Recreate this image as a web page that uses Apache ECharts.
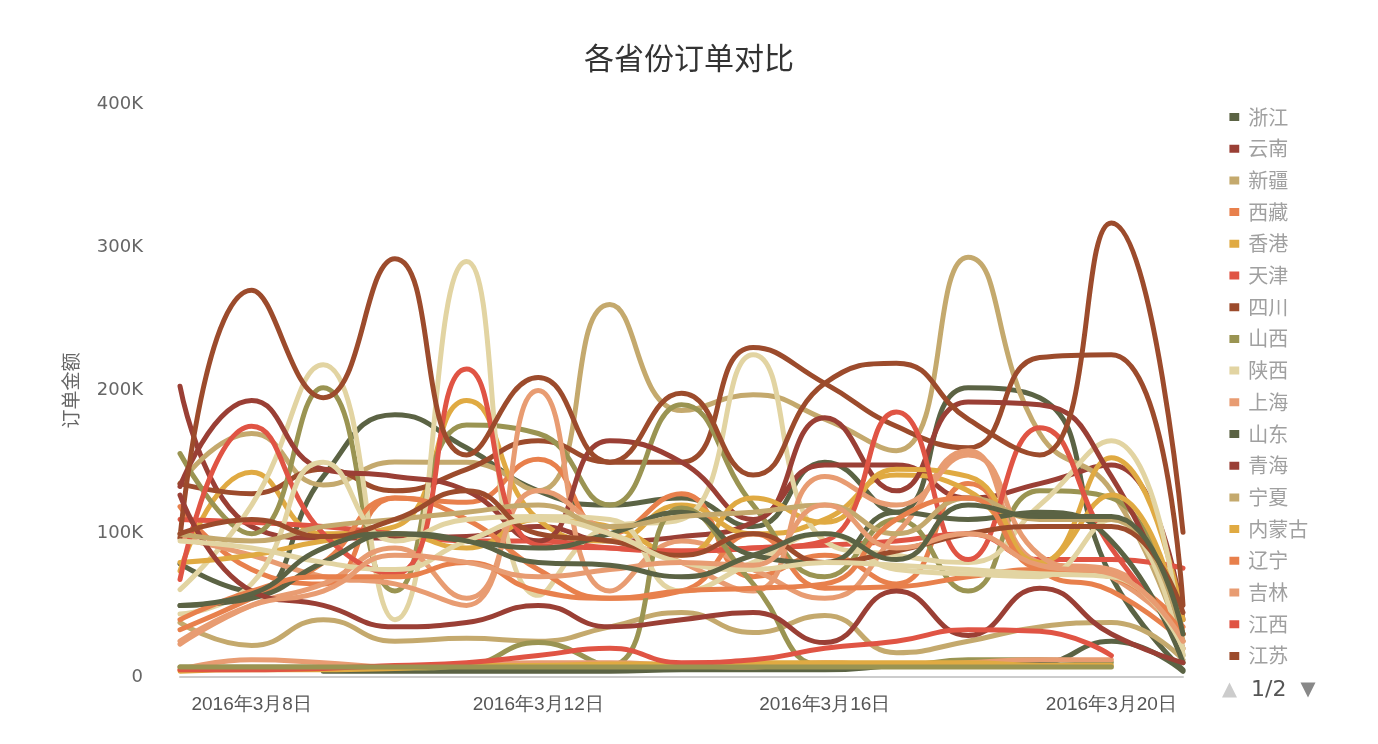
<!DOCTYPE html>
<html><head><meta charset="utf-8">
<script src="https://cdn.jsdelivr.net/npm/echarts@6/dist/echarts.min.js"></script>
<style>html,body{margin:0;padding:0;background:#fff}#c{width:1378px;height:744px}</style>
</head><body><div id="c"></div>
<script>
const dates = ['2016-03-07','2016-03-08','2016-03-09','2016-03-10','2016-03-11','2016-03-12','2016-03-13','2016-03-14','2016-03-15','2016-03-16','2016-03-17','2016-03-18','2016-03-19','2016-03-20','2016-03-21'];
const yTicks = [0, 100000, 200000, 300000, 400000];
const provinces = ['浙江','云南','新疆','西藏','香港','天津','四川','山西','陕西','上海','山东','青海','宁夏','内蒙古','辽宁','吉林','江西','江苏','湖南','湖北','黑龙江','河南','河北','海南','贵州','广西','广东','甘肃','福建','重庆','北京','安徽'];
// values in thousands (K)
const zhejiang   = [79, 60, 140, 183, 160, 130, 120, 125, 105, 150, 115, 202, 195, 70, 5];
const yunnan     = [203, 105, 97, 97, 98, 105, 95, 98, 108, 148, 148, 125, 135, 148, 40];
const xinjiang   = [135, 170, 134, 150, 150, 130, 260, 186, 197, 180, 158, 293, 170, 130, 20];
const xizang     = [119, 75, 65, 125, 122, 152, 100, 128, 70, 85, 65, 135, 75, 60, 25];
const xianggang  = [74, 143, 100, 105, 193, 110, 95, 120, 100, 110, 141, 130, 80, 153, 40];
const tianjin    = [110, 108, 105, 100, 95, 95, 90, 88, 90, 92, 95, 100, 82, 82, 76];
const sichuan    = [135, 128, 145, 130, 145, 165, 150, 150, 230, 205, 175, 160, 223, 225, 50];
const shanxi     = [156, 100, 202, 60, 176, 170, 120, 190, 120, 70, 110, 60, 130, 125, 15];
const shaanxi    = [61, 120, 218, 40, 290, 57, 105, 110, 225, 95, 85, 80, 120, 165, 15];
const shanghai   = [97, 85, 70, 65, 50, 200, 60, 95, 75, 55, 100, 158, 80, 75, 20];
const shandong   = [null, null, 4, 4, 4, 4, 4, 5, 5, 5, 8, 10, 10, 25, 4];
const qinghai    = [133, 193, 145, 140, 130, 95, 165, 150, 110, 181, 130, 192, 190, 140, 30];
const ningxia    = [38, 22, 40, 25, 27, 25, 35, 45, 31, 43, 17, 25, 35, 38, 12];
const neimenggu  = [80, 85, 95, 100, 90, 110, 105, 85, 125, 108, 145, 140, 80, 127, 30];
const liaoning   = [33, 55, 80, 125, 110, 75, 55, 60, 100, 62, 63, 70, 75, 70, 35];
const jilin      = [23, 50, 65, 90, 55, 130, 100, 80, 60, 140, 120, 155, 85, 70, 30];
const jiangxi    = [68, 175, 100, 72, 215, 92, 90, 88, 90, 95, 185, 82, 174, 90, 30];
const jiangsu    = [97, 270, 195, 292, 155, 209, 150, 198, 141, 205, 219, 180, 155, 317, 101];
const hunan      = [7, 7, 7, 6, 8, 24, 8, 118, 65, 8, 8, 12, 12, 10, null];
const hubei      = [44, 65, 150, 95, 110, 112, 110, 60, 80, 100, 75, 72, 70, 110, 10];
const heilongjiang = [5, 12, 10, 7, 8, 10, 10, 8, 7, 10, 8, 10, 12, 12, null];
const henan      = [50, 55, 80, 100, 95, 90, 100, 115, 85, 80, 115, 110, 115, 95, 10];
const hebei      = [127, 60, 50, 35, 38, 50, 35, 40, 45, 24, 60, 29, 62, 30, 10];
const hainan     = [100, 95, 105, 110, 115, 120, 105, 112, 115, 120, 100, 125, 110, 110, 25];
const guizhou    = [40, 60, 70, 70, 80, 60, 55, 60, 62, 65, 110, 125, 75, 70, 30];
const guangxi    = [4, 5, 5, 6, 8, 8, 9, 9, 10, 10, 10, 10, 8, 8, null];
const guangdong  = [5, 5, 6, 8, 10, 15, 20, 10, 12, 20, 25, 33, 32, 15, null];
const gansu      = [100, 110, 98, 110, 130, 100, 95, 85, 100, 80, 88, 100, 105, 105, 45];
const fujian     = [7, 7, 7, 7, 7, 7, 7, 7, 7, 7, 7, 7, 7, 7, null];
const chongqing  = [95, 90, 80, 75, 95, 110, 100, 80, 75, 80, 78, 75, 72, 70, 20];
const beijing    = [25, 50, 60, 85, 80, 70, 75, 80, 78, 120, 90, 100, 78, 72, 25];
const anhui      = [50, 58, 90, 100, 95, 80, 78, 70, 85, 100, 82, 120, 112, 112, 30];

const seriesValues = [zhejiang, yunnan, xinjiang, xizang, xianggang, tianjin, sichuan, shanxi, shaanxi, shanghai,
  shandong, qinghai, ningxia, neimenggu, liaoning, jilin, jiangxi, jiangsu,
  hunan, hubei, heilongjiang, henan, hebei, hainan, guizhou, guangxi, guangdong, gansu, fujian, chongqing, beijing, anhui];

const C1='#5b6344', C2='#9a3f35', C3='#c4a96d', C4='#e8804c', C5='#e0aa42', C6='#e05444', C7='#9c4b2c', C8='#9a9452', C9='#e2d4a2', C10='#e89c72';
const colors = [C1,C2,C3,C4,C5,C6,C7,C8,C9,C10, C1,C2,C3,C5,C4,C10,C6,C7, C8,C9,C10,C1,C2,C3,C4,C5,C6,C7,C8,C9,C10,C1];

const chart = echarts.init(document.getElementById('c'));
const dateLabel = s => { const p = s.split('-'); return p[0] + '年' + (+p[1]) + '月' + (+p[2]) + '日'; };
chart.setOption({
  animation: false,
  color: colors,
  title: { text: '各省份订单对比', left: 'center', top: 38, textStyle: { fontSize: 30, fontWeight: 'normal', color: '#333', fontFamily: 'Noto Sans CJK SC' } },
  legend: {
    type: 'scroll', orient: 'vertical', left: 1217, top: 102, height: 594,
    icon: 'rect', itemWidth: 10, itemHeight: 8, itemGap: 11.7,
    textStyle: { fontSize: 20, color: '#a0a0a0', fontFamily: 'Noto Sans CJK SC', padding: [0, 0, 0, 4] },
    pageIconColor: '#888', pageIconInactiveColor: '#ccc', pageIconSize: 15, pageButtonItemGap: 2,
    pageTextStyle: { color: '#555', fontSize: 22, fontFamily: 'DejaVu Sans' },
    data: provinces
  },
  grid: { left: 180, right: 195, top: 104, bottom: 67 },
  xAxis: {
    type: 'category', data: dates, boundaryGap: false,
    axisLine: { lineStyle: { color: '#ccc', width: 2 } },
    axisTick: { show: false },
    axisLabel: { interval: (i) => i % 4 === 1, formatter: dateLabel, color: '#555', fontSize: 19, margin: 18, fontFamily: 'Liberation Sans, sans-serif' }
  },
  yAxis: {
    type: 'value', min: yTicks[0], max: yTicks[yTicks.length-1], interval: 100000,
    name: '订单金额', nameLocation: 'middle', nameGap: 100,
    nameTextStyle: { fontSize: 19, color: '#666', fontFamily: 'Noto Sans CJK SC' },
    axisLine: { show: false }, axisTick: { show: false }, splitLine: { show: false },
    axisLabel: { color: '#666', fontSize: 18, margin: 37, fontFamily: 'DejaVu Sans', formatter: v => v === 0 ? '0' : (v/1000) + 'K' }
  },
  series: provinces.map((name, i) => ({
    name, type: 'line', smooth: true, showSymbol: false, connectNulls: false,
    lineStyle: { width: 5, cap: 'round', join: 'round' },
    emphasis: { disabled: true },
    data: seriesValues[i].map(v => v == null ? null : v * 1000)
  }))
});
</script></body></html>
